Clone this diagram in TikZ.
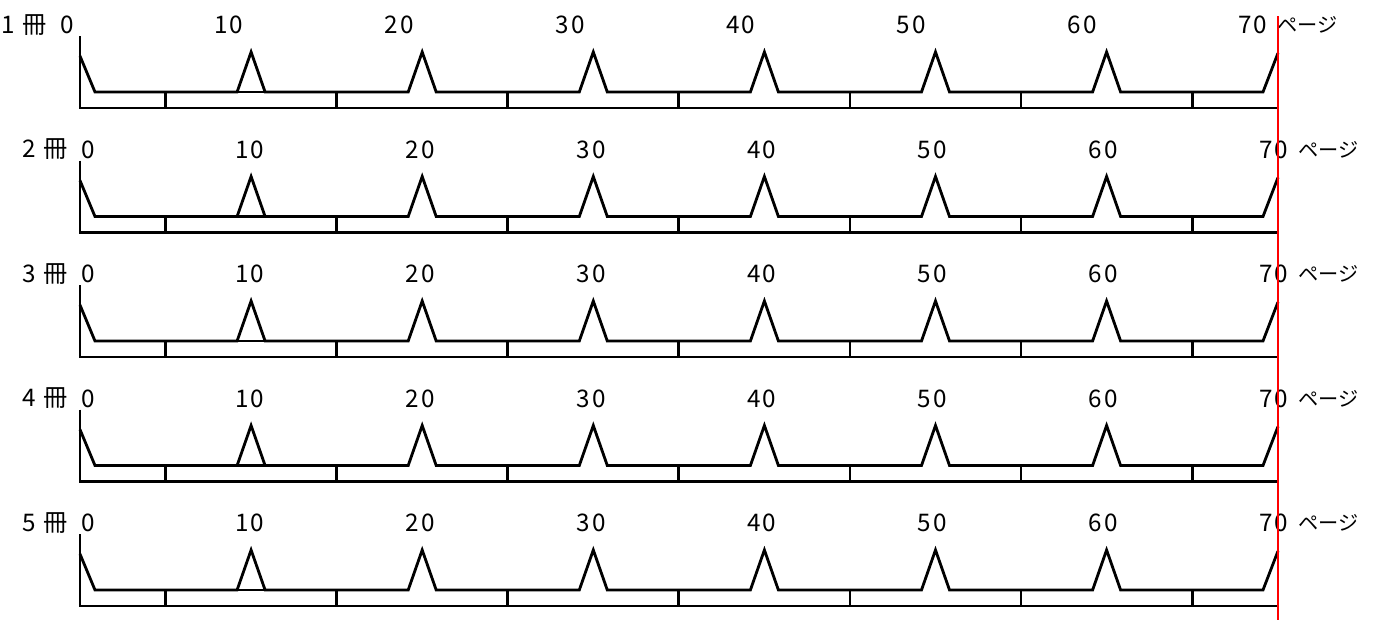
\documentclass[tikz,border=0pt]{standalone}
\usepackage{fontspec}
\setmainfont{Noto Sans CJK JP}
\usepackage{tikz}

\begin{document}
\begin{tikzpicture}[
  x=0.02cm, y=-0.02cm,
  bar/.style={line width=1.6pt, line join=miter},
  mark line/.style={red, line width=1.2pt},
  lbl/.style={font=\fontsize{13.8}{15}\selectfont\addfontfeature{LetterSpace=9}, inner sep=0pt},
  unit/.style={font=\fontsize{11.5}{14}\selectfont, inner sep=0pt, anchor=west}
]
\useasboundingbox (0,0) rectangle (1374,620);

\foreach \r/\bk/\sh in {0/1/-21, 1/2/0, 2/3/0, 3/4/0, 4/5/0} {
  \pgfmathsetmacro{\d}{124.5*\r}
  % labels
  \node[lbl, anchor=east] (book\r) at (68+\sh, {25+\d}) {\bk\hspace{4pt}冊};
  \node[lbl] (p\r-0) at (88+\sh, {25+\d}) {0};
  \foreach \k/\t in {1/10, 2/20, 3/30, 4/40, 5/50, 6/60, 7/70}
    \node[lbl] (p\r-\k) at ({79+170.7*\k+\sh}, {25+\d}) {\t};
  \node[unit] (unit\r) at (1298+\sh, {25+\d}) {ページ};
  % pages
  \draw[bar] (80,{56+\d}) -- (95,{92+\d})
    \foreach \k in {1,...,6} { -- ({80+171.1*\k-14},{92+\d}) -- ({80+171.1*\k},{52+\d}) -- ({80+171.1*\k+14},{92+\d}) }
    -- (1263,{92+\d}) -- (1278,{53+\d});
  \draw[bar] ({80+171.1-14},{92+\d}) -- ({80+171.1+14},{92+\d});
  \draw[bar] (80,{36+\d}) -- (80,{108+\d}) -- (1278,{108+\d});
  \foreach \k in {1,...,7}
    \draw[bar] ({80+171.1*(\k-0.5)},{92+\d}) -- ({80+171.1*(\k-0.5)},{108+\d});
}

\coordinate (redtop) at (1278,16);
\coordinate (redbot) at (1278,620);
\draw[mark line] (redtop) -- (redbot);
\end{tikzpicture}
\end{document}
